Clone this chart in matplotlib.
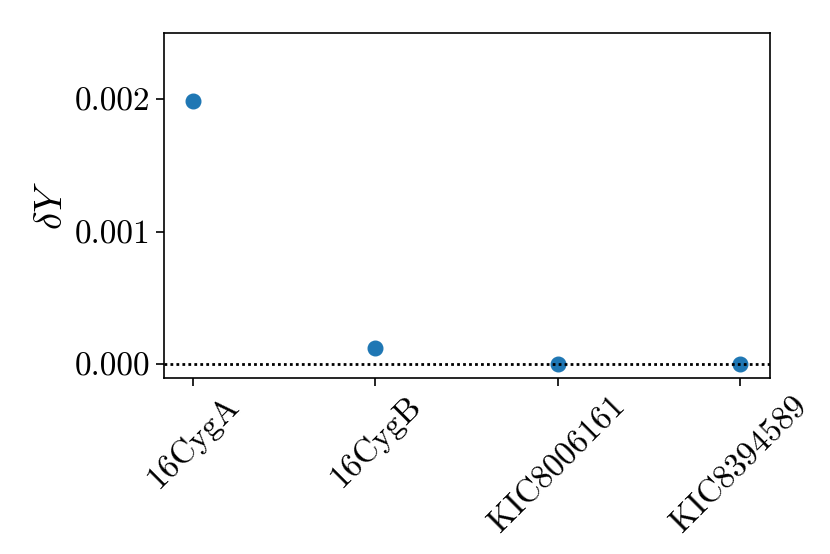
import matplotlib
matplotlib.use('Agg')
import matplotlib.pyplot as plt

plt.rcParams['font.family'] = 'serif'
plt.rcParams['font.serif'] = ['cmr10']
plt.rcParams['mathtext.fontset'] = 'cm'
plt.rcParams['axes.formatter.use_mathtext'] = True

# data
stars = ['16CygA', '16CygB', 'KIC8006161', 'KIC8394589']
delta_y = [0.00199, 0.000121, 0.0, 0.0]
yticks = [0.0, 0.001, 0.002]
ytick_labels = ['0.000', '0.001', '0.002']

fig = plt.figure(figsize=(8.3, 5.54), dpi=100)
ax = fig.add_axes([164 / 830, 1 - 378 / 554, (770 - 164) / 830, (378 - 33) / 554])

x = range(len(stars))
ax.plot(x, delta_y, 'o', color='#1f77b4', markersize=10.5)
ax.axhline(0, color='black', linestyle=(0, (1, 1.15)), linewidth=2)

ax.set_xticks(list(x))
ax.set_xticklabels(stars, rotation=45, fontsize=24)
ax.set_yticks(yticks)
ax.set_yticklabels(ytick_labels, fontsize=24)
ax.tick_params(length=6, width=1.2)
for sp in ax.spines.values():
    sp.set_linewidth(1.2)
ax.set_xlim(-0.16, 3.165)
ax.set_ylim(-0.000106, 0.0025)
ax.set_ylabel(r'$\delta Y$', fontsize=28)

fig.savefig('out.png', dpi=100)
